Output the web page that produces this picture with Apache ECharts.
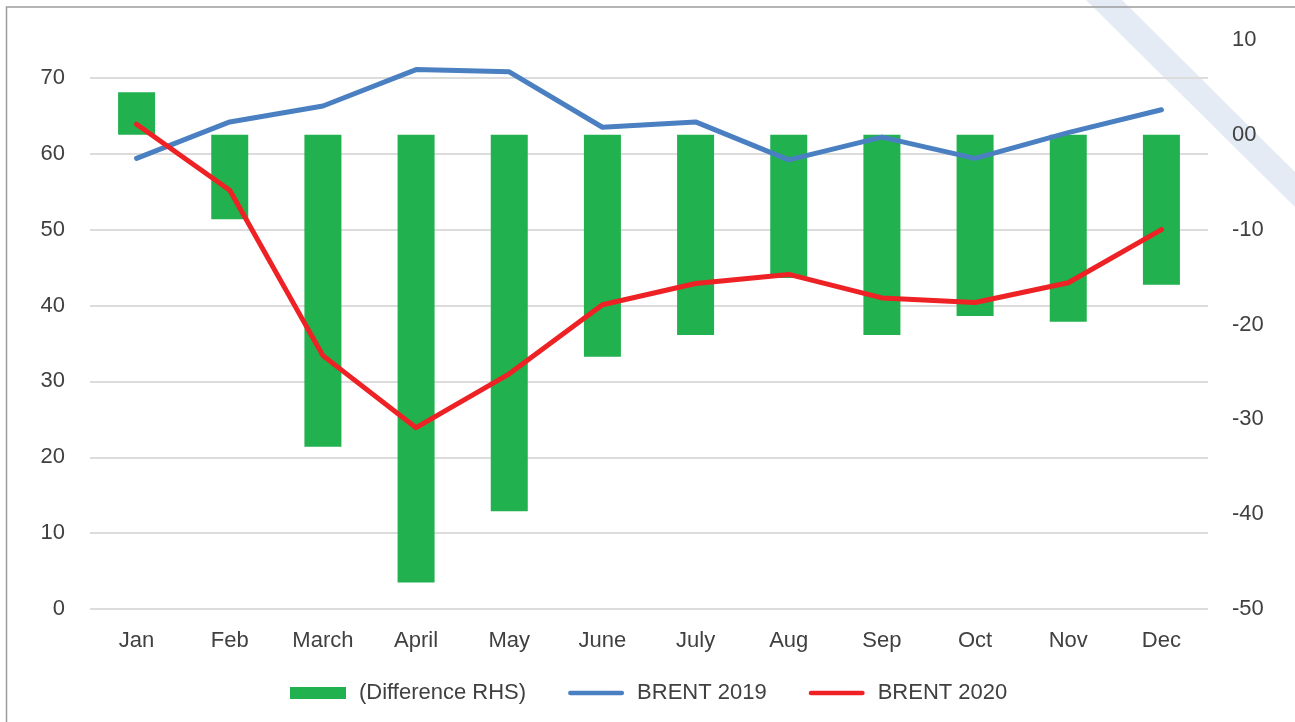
<!DOCTYPE html>
<html lang="en">
<head>
    <meta charset="UTF-8">
    <title>Brent 2019 vs 2020</title>
    <script src="https://cdn.jsdelivr.net/npm/echarts@6/dist/echarts.min.js"></script>
    <style>
        html, body { margin: 0; padding: 0; background: #fff; }
        #main { width: 1295px; height: 722px; }
    </style>
</head>
<body>
<div id="main"></div>
<script>
    // data
    var months = ['Jan', 'Feb', 'March', 'April', 'May', 'June', 'July', 'Aug', 'Sep', 'Oct', 'Nov', 'Dec'];
    var brent2019 = [59.4, 64.2, 66.3, 71.1, 70.8, 63.5, 64.2, 59.2, 62.2, 59.4, 62.8, 65.8];
    var brent2020 = [63.9, 55.2, 33.4, 23.9, 31.0, 40.1, 42.9, 44.1, 41.0, 40.4, 43.0, 50.0];
    var difference = [4.5, -8.9, -32.9, -47.2, -39.7, -23.4, -21.1, -15.1, -21.1, -19.1, -19.7, -15.8];
    var seriesNames = ['(Difference RHS)', 'BRENT 2019', 'BRENT 2020'];

    var font = 'Liberation Sans';
    var textColor = '#404040';
    // thick rounded line used as legend icon for the two line series
    var lineIcon = 'path://M2.5,0 L58.5,0 A2.5,2.5 0 0 1 58.5,5 L2.5,5 A2.5,2.5 0 0 1 2.5,0 Z';

    var myChart = echarts.init(document.getElementById('main'));
    var option = {
        backgroundColor: '#fff',
        animation: false,
        textStyle: { fontFamily: font },
        graphic: [
            {   // pale diagonal band at the top right
                type: 'polygon',
                z: -10,
                shape: { points: [[1086, 0], [1122, 0], [1295, 172], [1295, 207]] },
                style: { fill: '#e4ebf5' }
            },
            {   // frame
                type: 'rect',
                z: -9,
                shape: { x: 6.5, y: 7, width: 1400, height: 800 },
                style: { fill: 'none', stroke: '#9c9c9c', lineWidth: 1.5 }
            }
        ],
        grid: { left: 90, right: 87, top: 40, bottom: 113 },
        legend: {
            left: 285,
            top: 677,
            itemWidth: 56,
            itemHeight: 12,
            itemGap: 42,
            textStyle: { fontFamily: font, fontSize: 22, color: textColor, padding: [0, 0, 0, 8] },
            data: [
                { name: seriesNames[0], icon: 'rect' },
                { name: seriesNames[1], icon: lineIcon },
                { name: seriesNames[2], icon: lineIcon }
            ]
        },
        xAxis: {
            type: 'category',
            data: months,
            axisLine: { show: false },
            axisTick: { show: false },
            axisLabel: { fontFamily: font, fontSize: 22, color: textColor, margin: 21 }
        },
        yAxis: [
            {
                type: 'value',
                min: 0,
                max: 75,
                interval: 10,
                axisLine: { show: false },
                axisTick: { show: false },
                axisLabel: { fontFamily: font, fontSize: 22, color: textColor, margin: 25, showMaxLabel: false },
                splitLine: { showMaxLine: false, lineStyle: { color: '#dcdcdc', width: 2 } }
            },
            {
                type: 'value',
                min: -50,
                max: 10,
                interval: 10,
                position: 'right',
                axisLine: { show: false },
                axisTick: { show: false },
                splitLine: { show: false },
                axisLabel: {
                    fontFamily: font, fontSize: 22, color: textColor, margin: 24,
                    formatter: function (v) { return v === 0 ? '00' : String(v); }
                }
            }
        ],
        series: [
            {
                name: seriesNames[0],
                type: 'bar',
                yAxisIndex: 1,
                barWidth: 37,
                itemStyle: { color: '#21b14f' },
                data: difference
            },
            {
                name: seriesNames[1],
                type: 'line',
                yAxisIndex: 0,
                symbol: 'none',
                symbolKeepAspect: true,
                lineStyle: { color: '#4a80c1', width: 5, cap: 'round', join: 'round' },
                itemStyle: { color: '#4a80c1' },
                data: brent2019
            },
            {
                name: seriesNames[2],
                type: 'line',
                yAxisIndex: 0,
                symbol: 'none',
                symbolKeepAspect: true,
                lineStyle: { color: '#ee2125', width: 5, cap: 'round', join: 'round' },
                itemStyle: { color: '#ee2125' },
                data: brent2020
            }
        ]
    };
    myChart.setOption(option);
</script>
</body>
</html>
